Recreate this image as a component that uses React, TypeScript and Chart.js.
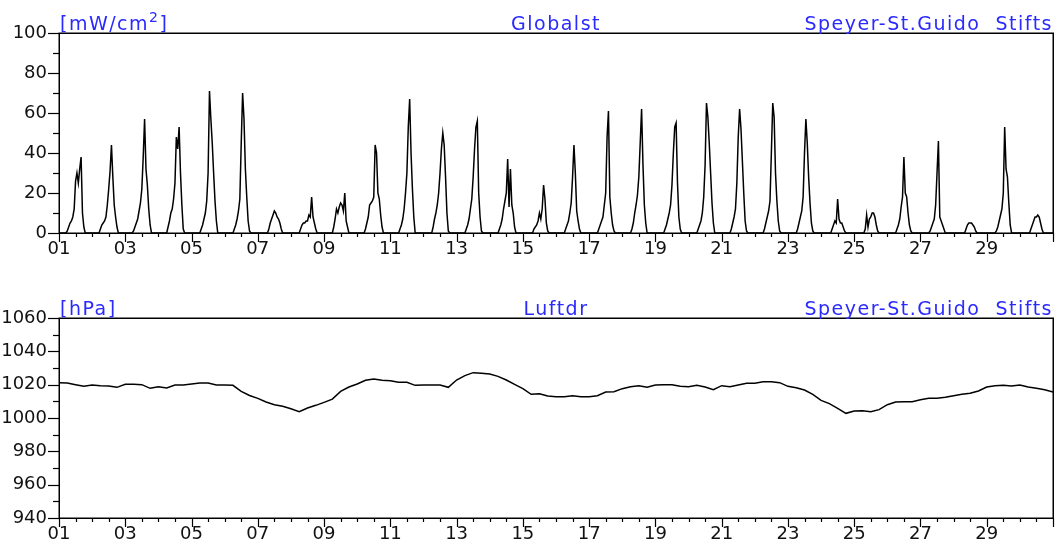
import React, { useEffect, useRef } from 'react';
import { Chart, registerables } from 'chart.js';

Chart.register(...registerables);

// ---------- data ----------
const DAY_TICK_LABELS = ['01', '03', '05', '07', '09', '11', '13', '15', '17', '19', '21', '23', '25', '27', '29'];

// hours of day for each radiation reading (local)
const RAD_HOURS = [5, 6, 7, 8, 9, 10, 11, 12, 13, 14, 15, 16, 17, 18, 19, 20];

// Global radiation [mW/cm2], one row per day (01..30), values at RAD_HOURS
const RAD_D01 = [0, 1, 3, 5, 6, 8, 12, 26, 30, 25, 32, 38, 10, 3, 0, 0];
const RAD_D02 = [0, 2, 4, 5, 6, 8, 14, 22, 31, 44, 28, 14, 8, 3, 0, 0];
const RAD_D03 = [0, 1, 3, 5, 7, 11, 15, 22, 38, 57, 32, 24, 12, 4, 0, 0];
const RAD_D04 = [0, 0, 3, 6, 10, 12, 17, 25, 48, 42, 53, 30, 14, 2, 0, 0];
const RAD_D05 = [0, 0, 2, 4, 7, 10, 16, 30, 71, 57, 45, 30, 16, 6, 0, 0];
const RAD_D06 = [0, 0, 2, 4, 7, 11, 17, 45, 70, 57, 32, 18, 6, 1, 0, 0];
const RAD_D07 = [0, 0, 0, 2, 5, 7, 9, 11, 10, 8, 7, 5, 2, 0, 0, 0];
const RAD_D08 = [0, 0, 2, 4, 5, 5, 6, 6, 9, 8, 18, 8, 5, 2, 0, 0];
const RAD_D09 = [0, 0, 3, 7, 12, 10, 13, 15, 14, 11, 20, 6, 3, 0, 0, 0];
const RAD_D10 = [0, 2, 5, 8, 14, 15, 16, 18, 44, 40, 20, 17, 9, 3, 0, 0];
const RAD_D11 = [0, 0, 2, 4, 7, 12, 20, 30, 53, 67, 40, 22, 8, 0, 0, 0];
const RAD_D12 = [0, 0, 3, 7, 10, 14, 20, 30, 42, 50, 44, 28, 10, 1, 0, 0];
const RAD_D13 = [0, 0, 2, 4, 7, 12, 17, 28, 42, 53, 56, 20, 8, 1, 0, 0];
const RAD_D14 = [0, 0, 2, 4, 7, 12, 16, 20, 37, 13, 32, 14, 10, 3, 0, 0];
const RAD_D15 = [0, 0, 0, 2, 3, 4, 6, 10, 7, 12, 24, 17, 5, 1, 0, 0];
const RAD_D16 = [0, 0, 2, 4, 6, 10, 15, 28, 44, 30, 11, 6, 2, 0, 0, 0];
const RAD_D17 = [0, 0, 2, 4, 6, 8, 14, 20, 48, 61, 18, 10, 4, 1, 0, 0];
const RAD_D18 = [0, 0, 2, 5, 10, 14, 19, 28, 45, 62, 34, 14, 5, 0, 0, 0];
const RAD_D19 = [0, 0, 2, 4, 7, 10, 14, 24, 40, 53, 55, 25, 8, 2, 0, 0];
const RAD_D20 = [0, 0, 2, 4, 6, 10, 18, 34, 65, 58, 45, 30, 15, 5, 0, 0];
const RAD_D21 = [0, 0, 2, 5, 8, 12, 25, 48, 62, 52, 36, 20, 6, 1, 0, 0];
const RAD_D22 = [0, 0, 2, 5, 8, 11, 16, 40, 65, 58, 30, 16, 6, 1, 0, 0];
const RAD_D23 = [0, 0, 2, 5, 8, 11, 18, 40, 57, 45, 28, 15, 5, 1, 0, 0];
const RAD_D24 = [0, 0, 0, 2, 4, 6, 5, 17, 7, 5, 5, 3, 1, 0, 0, 0];
const RAD_D25 = [0, 0, 0, 2, 9, 3, 7, 8, 10, 10, 8, 4, 1, 0, 0, 0];
const RAD_D26 = [0, 0, 2, 4, 7, 13, 18, 38, 20, 18, 10, 4, 1, 0, 0, 0];
const RAD_D27 = [0, 0, 1, 3, 5, 7, 14, 30, 46, 8, 6, 4, 2, 0, 0, 0];
const RAD_D28 = [0, 0, 0, 0, 2, 4, 5, 5, 5, 4, 3, 1, 0, 0, 0, 0];
const RAD_D29 = [0, 0, 1, 3, 6, 9, 12, 20, 53, 32, 28, 15, 4, 0, 0, 0];
const RAD_D30 = [0, 0, 0, 2, 4, 6, 8, 8, 9, 8, 5, 2, 0, 0, 0, 0];

const RADIATION_DAYS = [
  RAD_D01, RAD_D02, RAD_D03, RAD_D04, RAD_D05, RAD_D06, RAD_D07, RAD_D08, RAD_D09, RAD_D10,
  RAD_D11, RAD_D12, RAD_D13, RAD_D14, RAD_D15, RAD_D16, RAD_D17, RAD_D18, RAD_D19, RAD_D20,
  RAD_D21, RAD_D22, RAD_D23, RAD_D24, RAD_D25, RAD_D26, RAD_D27, RAD_D28, RAD_D29, RAD_D30,
];

// Air pressure [hPa], every 6 hours from day 01 00:00 to day 31 00:00
const PRESSURE_STEP_HOURS = 6;
const PRESSURE = [
  1021.2, 1021.0, 1020.0, 1019.0, 1019.8, 1019.4, 1019.2, 1018.4, 1020.2, 1020.2,
  1020.0, 1017.8, 1018.8, 1018.0, 1019.8, 1019.8, 1020.4, 1021.0, 1021.0, 1019.8,
  1019.8, 1019.6, 1016.0, 1013.5, 1011.8, 1009.6, 1008.0, 1007.0, 1005.5, 1003.8,
  1006.0, 1007.6, 1009.4, 1011.3, 1016.0, 1018.6, 1020.4, 1022.6, 1023.4, 1022.6,
  1022.4, 1021.4, 1021.4, 1019.6, 1019.8, 1019.8, 1019.8, 1018.4, 1022.8, 1025.4,
  1027.2, 1026.8, 1026.4, 1025.0, 1022.8, 1020.2, 1017.6, 1014.2, 1014.6, 1013.2,
  1012.8, 1012.8, 1013.4, 1012.8, 1012.8, 1013.4, 1015.6, 1015.8, 1017.6, 1018.8,
  1019.4, 1018.4, 1019.8, 1020.0, 1020.0, 1019.0, 1018.8, 1019.6, 1018.6, 1017.0,
  1019.4, 1018.8, 1019.8, 1020.8, 1020.8, 1021.8, 1021.8, 1021.2, 1019.0, 1018.2,
  1016.8, 1014.2, 1010.6, 1008.6, 1005.8, 1002.8, 1004.2, 1004.4, 1003.8, 1005.0,
  1008.0, 1009.6, 1009.8, 1009.8, 1011.0, 1011.8, 1011.8, 1012.4, 1013.4, 1014.2,
  1014.8, 1016.2, 1018.6, 1019.4, 1019.6, 1019.2, 1019.8, 1018.6, 1017.8, 1017.0,
  1015.6,
];

const STATION = 'Speyer-St.Guido  Stifts';
// unit label: [base, superscript, closing]
const TOP_UNIT = ['[mW/cm', '2', ']'];
const TOP_NAME = 'Globalst';
const BOTTOM_UNIT = ['[hPa]', '', ''];
const BOTTOM_NAME = 'Luftdr';

// ---------- helpers ----------
const FONT = 'DejaVu Sans';
const BLUE = '#2a2aff';
const INK = '#111111';

const radiationPoints = (() => {
  const pts: { x: number; y: number }[] = [{ x: 0, y: 0 }];
  RADIATION_DAYS.forEach((vals, d) => {
    vals.forEach((v, i) => pts.push({ x: d + RAD_HOURS[i] / 24, y: v }));
  });
  pts.push({ x: 30, y: 0 });
  return pts;
})();

const pressurePoints = PRESSURE.map((p, k) => ({ x: (k * PRESSURE_STEP_HOURS) / 24, y: p }));

const framePlugin = {
  id: 'frame',
  afterDraw(chart: any, _args: any, opts: any) {
    const { ctx, chartArea } = chart;
    const { left, right, top, bottom } = chartArea;
    const xs = chart.scales.x;
    const ys = chart.scales.y;
    ctx.save();
    ctx.strokeStyle = '#000';
    ctx.lineWidth = 1.5;
    ctx.strokeRect(Math.round(left) + 0.25, Math.round(top) + 0.25, Math.round(right - left), Math.round(bottom - top));
    ctx.lineWidth = 1.2;
    // y ticks
    ys.ticks.forEach((t: any) => {
      const py = Math.round(ys.getPixelForValue(t.value)) + 0.5;
      const len = t.value % opts.yMajor === 0 ? 11 : 6;
      ctx.beginPath();
      ctx.moveTo(left - len, py);
      ctx.lineTo(left, py);
      ctx.stroke();
    });
    // x ticks
    xs.ticks.forEach((t: any) => {
      const px = Math.round(xs.getPixelForValue(t.value)) + 0.5;
      const major = Number.isInteger(t.value) && t.value % 2 === 0;
      const len = major ? 9 : 4;
      ctx.beginPath();
      ctx.moveTo(px, bottom);
      ctx.lineTo(px, bottom + len);
      ctx.stroke();
    });
    // titles
    ctx.fillStyle = BLUE;
    (ctx as any).letterSpacing = '1.5px';
    ctx.textBaseline = 'alphabetic';
    const ty = top - 3;
    const big = `19px "${FONT}"`;
    const small = `14px "${FONT}"`;
    ctx.textAlign = 'left';
    let cx = left + 1;
    const [u0, u1, u2] = opts.unit;
    ctx.font = big;
    ctx.fillText(u0, cx, ty);
    cx += ctx.measureText(u0).width;
    if (u1) {
      ctx.font = small;
      ctx.fillText(u1, cx, ty - 8);
      cx += ctx.measureText(u1).width;
    }
    if (u2) {
      ctx.font = big;
      ctx.fillText(u2, cx, ty);
    }
    ctx.font = big;
    ctx.textAlign = 'center';
    ctx.fillText(opts.name, (left + right) / 2, ty);
    ctx.textAlign = 'right';
    ctx.fillText(STATION, right, ty);
    ctx.restore();
  },
};

function makeConfig(points: any[], yMin: number, yMax: number, padTop: number, xHeight: number, unit: string[], name: string) {
  return {
    type: 'line',
    data: {
      datasets: [
        {
          data: points,
          borderColor: '#000',
          borderWidth: 1.5,
          pointRadius: 0,
          tension: 0,
          fill: false,
        },
      ],
    },
    options: {
      animation: false,
      responsive: false,
      maintainAspectRatio: false,
      layout: { padding: { top: padTop, right: 6, left: 0, bottom: 0 } },
      plugins: {
        legend: { display: false },
        tooltip: { enabled: false },
        title: { display: false },
        frame: { unit, name, yMajor: 20 },
      },
      scales: {
        x: {
          type: 'linear',
          min: 0,
          max: 30,
          grid: { display: false, drawTicks: false },
          border: { display: false },
          ticks: {
            stepSize: 0.5,
            autoSkip: false,
            maxRotation: 0,
            minRotation: 0,
            padding: 6,
            color: INK,
            font: { family: FONT, size: 18 },
            callback: (v: number) =>
              Number.isInteger(v) && v % 2 === 0 && v / 2 < DAY_TICK_LABELS.length ? DAY_TICK_LABELS[v / 2] : '',
          },
          afterFit: (s: any) => {
            s.height = xHeight;
          },
        },
        y: {
          min: yMin,
          max: yMax,
          grid: { display: false, drawTicks: false },
          border: { display: false },
          ticks: {
            stepSize: 10,
            autoSkip: false,
            padding: 12,
            color: INK,
            font: { family: FONT, size: 18 },
            callback: (v: number) => (v % 20 === 0 ? String(v) : ''),
          },
          afterFit: (s: any) => {
            s.width = 59;
          },
        },
      },
    },
    plugins: [framePlugin],
  };
}

export default function App() {
  const topRef = useRef<HTMLCanvasElement>(null);
  const botRef = useRef<HTMLCanvasElement>(null);

  useEffect(() => {
    const c1 = new Chart(topRef.current as any, makeConfig(radiationPoints, 0, 100, 33, 37, TOP_UNIT, TOP_NAME) as any);
    const c2 = new Chart(botRef.current as any, makeConfig(pressurePoints, 940, 1060, 48, 27, BOTTOM_UNIT, BOTTOM_NAME) as any);
    return () => {
      c1.destroy();
      c2.destroy();
    };
  }, []);

  return (
    <div style={{ position: 'fixed', left: 0, top: 0, width: 1059, height: 545, background: '#fff' }}>
      <canvas ref={topRef} width={1059} height={270} style={{ position: 'absolute', left: 0, top: 0, width: 1059, height: 270 }} />
      <canvas ref={botRef} width={1059} height={275} style={{ position: 'absolute', left: 0, top: 270, width: 1059, height: 275 }} />
    </div>
  );
}
